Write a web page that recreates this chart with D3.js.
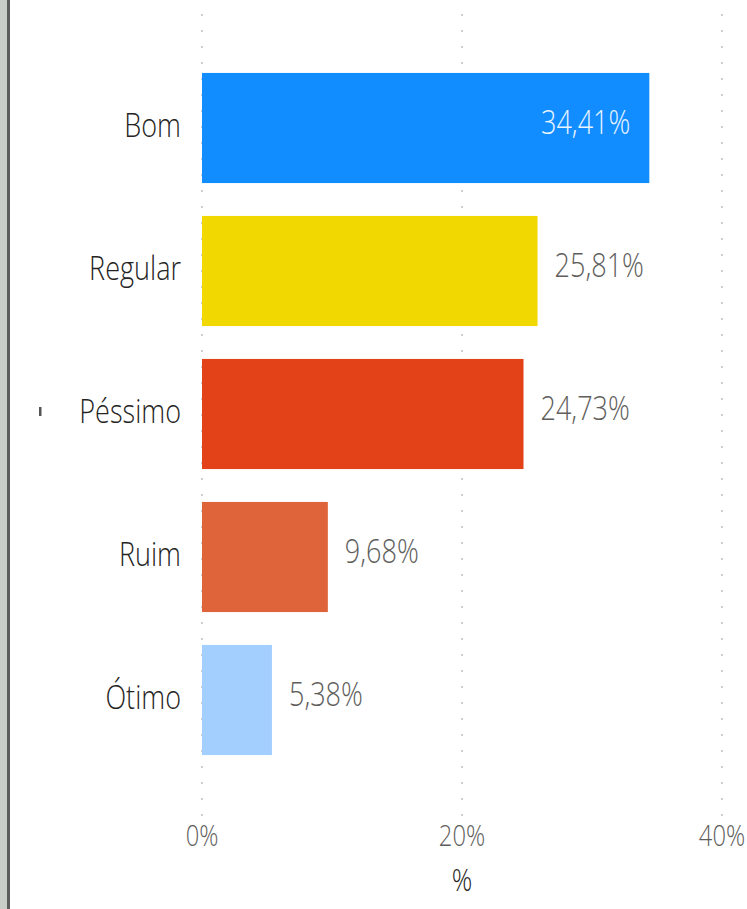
<!DOCTYPE html>
<html>
<head>
<meta charset="utf-8">
<script src="https://cdn.jsdelivr.net/npm/d3@7"></script>
<style>
html,body{margin:0;padding:0;background:#fff;}
svg{display:block;}
text{font-family:"Open Sans","Noto Sans",sans-serif;font-weight:300;}
</style>
</head>
<body>
<svg id="chart" width="747" height="909"></svg>
<script>
const categories = ["Bom", "Regular", "Péssimo", "Ruim", "Ótimo"];
const values = [34.41, 25.81, 24.73, 9.68, 5.38];
const valueLabels = ["34,41%", "25,81%", "24,73%", "9,68%", "5,38%"];
const barColors = ["#118DFF", "#F0D800", "#E34219", "#E0643A", "#A3CFFF"];
const ticks = [0, 20, 40];
const tickLabels = ["0%", "20%", "40%"];
const axisTitle = "%";

const svg = d3.select("#chart");
const SX = 0.82;

// left frame border
svg.append("rect").attr("x", 0).attr("y", 0).attr("width", 7).attr("height", 909).attr("fill", "#c9cdc8");
svg.append("rect").attr("x", 7).attr("y", 0).attr("width", 3).attr("height", 909).attr("fill", "#5a5d5a");

const x = d3.scaleLinear().domain([0, 40]).range([202, 722]);
const y = d3.scaleBand().domain(categories).range([56.5, 771.5]).paddingInner(0.23).paddingOuter(0.115);

// gridlines
svg.append("g").selectAll("line").data(ticks).join("line")
  .attr("x1", d => x(d)).attr("x2", d => x(d))
  .attr("y1", 14).attr("y2", 818)
  .attr("stroke", "#cfcfcf").attr("stroke-width", 2)
  .attr("stroke-dasharray", "2,14");

// bars
svg.append("g").selectAll("rect").data(categories).join("rect")
  .attr("x", x(0))
  .attr("y", d => y(d))
  .attr("width", (d, i) => x(values[i]) - x(0))
  .attr("height", y.bandwidth())
  .attr("fill", (d, i) => barColors[i]);

function stext(g, tx, ty, str, anchor, size, color) {
  g.append("text")
    .attr("transform", `translate(${tx},${ty}) scale(${SX},1)`)
    .attr("text-anchor", anchor)
    .attr("dominant-baseline", "middle")
    .attr("font-size", size)
    .attr("fill", color)
    .text(str);
}

// category labels
const cl = svg.append("g");
categories.forEach((c, i) => {
  stext(cl, 181, y(c) + y.bandwidth() / 2, c, "end", 33, "#252423");
});

// value labels
const vl = svg.append("g");
categories.forEach((c, i) => {
  const inside = i === 0;
  if (inside) {
    stext(vl, x(values[i]) - 19, y(c) + y.bandwidth() / 2 - 3, valueLabels[i], "end", 33, "#e8f3ff");
  } else {
    stext(vl, x(values[i]) + 17, y(c) + y.bandwidth() / 2 - 3, valueLabels[i], "start", 33, "#605E5C");
  }
});

// small mark near Péssimo
svg.append("rect").attr("x", 39).attr("y", y("Péssimo") + y.bandwidth() / 2 - 7).attr("width", 2.5).attr("height", 9).attr("fill", "#555");

// tick labels
const tl = svg.append("g");
ticks.forEach((t, i) => {
  stext(tl, x(t), 838, tickLabels[i], "middle", 29, "#605E5C");
});

// axis title
stext(svg, x(20), 883, axisTitle, "middle", 31, "#252423");
</script>
</body>
</html>
